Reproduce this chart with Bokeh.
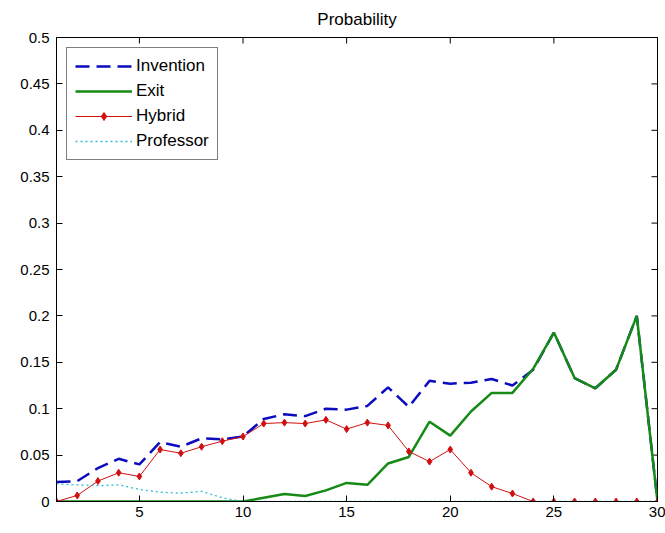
import math
from bokeh.plotting import figure
from bokeh.models import FixedTicker, NumeralTickFormatter, Range1d, Legend, LegendItem
from bokeh.embed import file_html
from bokeh.resources import INLINE

steps = [1, 2, 3, 4, 5, 6, 7, 8, 9, 10, 11, 12, 13, 14, 15,
         16, 17, 18, 19, 20, 21, 22, 23, 24, 25, 26, 27, 28, 29, 30]
invention = [0.021, 0.022, 0.036, 0.046, 0.040, 0.064, 0.059, 0.068, 0.067, 0.070,
             0.089, 0.094, 0.092, 0.100, 0.099, 0.103, 0.123, 0.102, 0.130, 0.127,
             0.128, 0.132, 0.125, 0.142, 0.182, 0.133, 0.122, 0.142, 0.200, 0.0]
exit_ = [0, 0, 0, 0, 0, 0, 0, 0, 0, 0,
         0.004, 0.008, 0.006, 0.012, 0.020, 0.018, 0.041, 0.048, 0.086, 0.071,
         0.097, 0.117, 0.117, 0.143, 0.182, 0.133, 0.122, 0.142, 0.200, 0.0]
hybrid = [0, 0.0065, 0.022, 0.031, 0.027, 0.056, 0.052, 0.059, 0.065, 0.070,
          0.084, 0.085, 0.084, 0.088, 0.078, 0.085, 0.082, 0.054, 0.043, 0.056,
          0.031, 0.016, 0.0086, 0, 0, 0, 0, 0, 0, 0]
professor = [0.019, 0.018, 0.017, 0.018, 0.013, 0.010, 0.009, 0.011, 0.004, 0,
             0, 0, 0, 0, 0, 0, 0, 0, 0, 0,
             0, 0, 0, 0, 0, 0, 0, 0, 0, 0]
x_ticks = [5, 10, 15, 20, 25, 30]
y_ticks = [0, 0.05, 0.1, 0.15, 0.2, 0.25, 0.3, 0.35, 0.4, 0.45, 0.5]
X_MIN, X_MAX = 1, 30
Y_MIN, Y_MAX = 0, 0.5

FONT = "Liberation Sans"

p = figure(width=665, height=525, output_backend="svg", toolbar_location=None,
           x_range=Range1d(X_MIN, X_MAX), y_range=Range1d(Y_MIN, Y_MAX),
           min_border_left=56, min_border_right=8, min_border_top=36, min_border_bottom=24,
           background_fill_color="white", border_fill_color="white")
p.grid.visible = False
p.outline_line_color = "black"
p.outline_line_width = 1

p.title.text = "Probability"
p.title.align = "center"
p.title.vertical_align = "middle"
p.title.text_font = FONT
p.title.text_font_size = "17px"
p.title.text_font_style = "normal"
p.title.text_color = "black"
p.title.standoff = 16

for ax in (p.xaxis[0], p.yaxis[0]):
    ax.major_tick_in = 6
    ax.major_tick_out = 0
    ax.minor_tick_in = 0
    ax.minor_tick_out = 0
    ax.axis_line_color = "black"
    ax.major_tick_line_color = "black"
    ax.major_label_text_font = FONT
    ax.major_label_text_font_size = "15px"
    ax.major_label_text_color = "black"
p.xaxis[0].ticker = FixedTicker(ticks=x_ticks)
p.yaxis[0].ticker = FixedTicker(ticks=y_ticks)
p.yaxis[0].formatter = NumeralTickFormatter(format="0.[00]")
p.xaxis[0].major_label_standoff = 5
p.yaxis[0].major_label_standoff = 7

# inward ticks on the top and right edges of the box (clipped to the frame)
p.scatter(x_ticks, [Y_MAX] * len(x_ticks), marker="dash", size=12, angle=math.pi / 2,
          line_color="black", line_width=1)
p.scatter([X_MAX] * len(y_ticks), y_ticks, marker="dash", size=12,
          line_color="black", line_width=1)

r_inv = p.line(steps, invention, line_color="#0b0bbf", line_width=2.5, line_dash="14 7")
r_exit = p.line(steps, exit_, line_color="#158a15", line_width=2.5)
r_hyb = p.line(steps, hybrid, line_color="#d01010", line_width=1)
r_hyb_m = p.scatter(steps, hybrid, marker="diamond", size=7, fill_color="#d01010",
                    line_color="#d01010")
r_prof = p.line(steps, professor, line_color="#2cbcd4", line_width=1.3, line_dash="2 3")

legend = Legend(items=[
    LegendItem(label="Invention", renderers=[r_inv]),
    LegendItem(label="Exit", renderers=[r_exit]),
    LegendItem(label="Hybrid", renderers=[r_hyb, r_hyb_m]),
    LegendItem(label="Professor", renderers=[r_prof]),
], location="top_left")
legend.margin = 10
legend.padding = 8
legend.spacing = 5
legend.glyph_width = 57
legend.glyph_height = 20
legend.label_height = 20
legend.label_standoff = 4
legend.label_text_font = FONT
legend.label_text_font_size = "17px"
legend.label_text_color = "black"
legend.border_line_color = "black"
legend.border_line_width = 1
legend.background_fill_color = "white"
p.add_layout(legend, "center")

open("out.html", "w").write(file_html(p, INLINE))
